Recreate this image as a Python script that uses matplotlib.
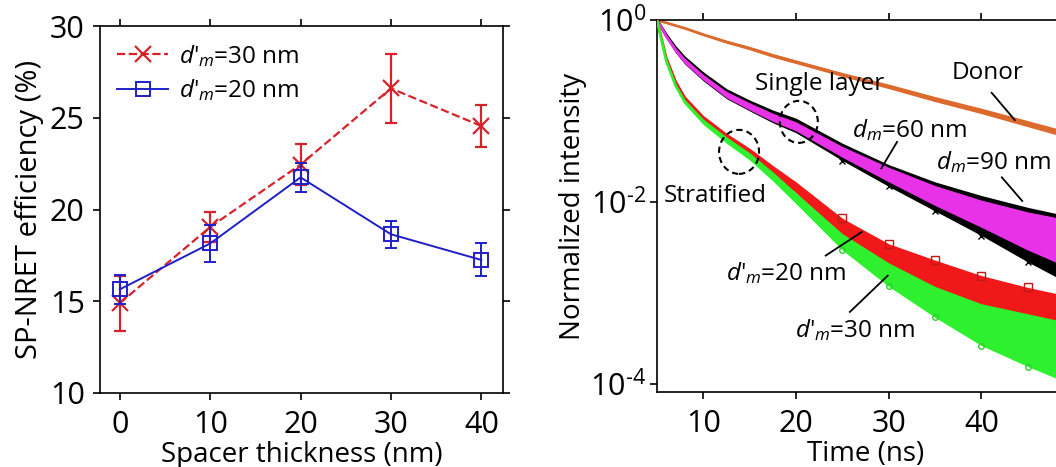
import numpy as np
import matplotlib
matplotlib.use("Agg")
import matplotlib.pyplot as plt
from matplotlib.patches import Ellipse
from matplotlib.lines import Line2D
from matplotlib.transforms import ScaledTranslation

plt.rcParams['font.family'] = ['Open Sans', 'DejaVu Sans']
plt.rcParams['mathtext.fontset'] = 'custom'
plt.rcParams['mathtext.rm'] = 'Open Sans'
plt.rcParams['mathtext.it'] = 'Open Sans:italic'
plt.rcParams['mathtext.fallback'] = 'cm'

# ---- Left panel: SP-NRET efficiency vs spacer thickness ----
spacer_nm = [0, 10, 20, 30, 40]
eff_30 = [14.9, 19.05, 22.45, 26.6, 24.55]
err_30 = [1.5, 0.8, 1.1, 1.9, 1.15]
eff_20 = [15.65, 18.15, 21.75, 18.65, 17.25]
err_20 = [0.8, 1.0, 0.8, 0.75, 0.9]

# ---- Right panel: decay curves (log10 of normalized intensity) ----
time_ns = [5, 6, 7, 8, 10, 12.5, 15, 17.5, 20, 25, 30, 35, 40, 45, 50]
donor_log = [0, -0.03, -0.06, -0.09, -0.16, -0.24, -0.31, -0.39, -0.46, -0.60, -0.73, -0.87, -1.00, -1.14, -1.28]
donor_spread = [0.008, 0.01, 0.012, 0.012, 0.014, 0.016, 0.018, 0.02, 0.02, 0.022, 0.025, 0.028, 0.03, 0.034, 0.036]
single60_log = [0, -0.18, -0.33, -0.45, -0.63, -0.82, -0.95, -1.07, -1.17, -1.45, -1.70, -1.93, -2.13, -2.32, -2.48]
single60_spread = [0.01, 0.02, 0.025, 0.03, 0.03, 0.035, 0.04, 0.045, 0.05, 0.06, 0.08, 0.11, 0.15, 0.21, 0.27]
single90_log = [0, -0.17, -0.32, -0.44, -0.62, -0.81, -0.94, -1.06, -1.16, -1.45, -1.71, -1.94, -2.15, -2.36, -2.55]
single90_spread = [0.015, 0.03, 0.04, 0.045, 0.05, 0.055, 0.06, 0.07, 0.08, 0.095, 0.12, 0.16, 0.22, 0.3, 0.38]
strat20_log = [0, -0.42, -0.68, -0.86, -1.08, -1.28, -1.45, -1.65, -1.84, -2.28, -2.60, -2.83, -3.05, -3.22, -3.35]
strat20_spread = [0.01, 0.015, 0.02, 0.025, 0.03, 0.035, 0.04, 0.05, 0.06, 0.1, 0.14, 0.19, 0.24, 0.28, 0.3]
strat30_log = [0, -0.45, -0.72, -0.90, -1.12, -1.32, -1.50, -1.72, -1.96, -2.44, -2.80, -3.10, -3.35, -3.52, -3.68]
strat30_spread = [0.01, 0.015, 0.02, 0.025, 0.03, 0.035, 0.04, 0.05, 0.06, 0.09, 0.13, 0.17, 0.23, 0.29, 0.34]

fig = plt.figure(figsize=(10.56, 4.67), dpi=100)

# Left axes
ax1 = fig.add_axes([100 / 1056, 1 - 393 / 467, 403 / 1056, 367 / 467])
red = '#d6232a'
blue = '#1f1fc8'
ax1.errorbar(spacer_nm, eff_30, yerr=err_30, color=red, ls='--', lw=1.6,
             marker='x', ms=12, mew=1.6, capsize=4, elinewidth=1.6, capthick=1.6,
             zorder=3)
ax1.errorbar(spacer_nm, eff_20, yerr=err_20, color=blue, ls='-', lw=1.4,
             marker='s', ms=10, mfc='none', mew=1.4, capsize=4, elinewidth=1.4,
             capthick=1.4, zorder=4)
ax1.set_xlim(-2.2, 42.4)
ax1.set_ylim(10, 30)
ax1.set_xticks(spacer_nm)
ax1.set_yticks([10, 15, 20, 25, 30])
ax1.tick_params(direction='out', length=5, width=1.2, labelsize=22,
                top=True, right=True)
ax1.tick_params(axis='x', pad=7)
ax1.tick_params(axis='y', pad=6)
ax1.set_xlabel('Spacer thickness (nm)', fontsize=20, labelpad=1)
ax1.set_ylabel('SP-NRET efficiency (%)', fontsize=21, labelpad=4)
for s in ax1.spines.values():
    s.set_linewidth(1.2)
handles = [Line2D([], [], color=red, ls='--', lw=1.6, marker='x', ms=12, mew=1.6),
           Line2D([], [], color=blue, ls='-', lw=1.4, marker='s', ms=10,
                  mfc='none', mew=1.4)]
ax1.legend(handles, ["$d$'$_m$=30 nm", "$d$'$_m$=20 nm"], loc='upper left',
           frameon=False, fontsize=17.5, handlelength=2.1, borderaxespad=0.3,
           labelspacing=0.35, handletextpad=0.45, borderpad=0.4)

# Right axes (extends past the right figure edge)
ax2 = fig.add_axes([657 / 1056, 1 - 392 / 467, (45 * 9.27) / 1056, 372 / 467])
ax2.set_yscale('log')


def band(ax, center, spread, color, zorder, lw):
    c = np.array(center)
    s = np.array(spread)
    ax.fill_between(time_ns, 10 ** (c - s), 10 ** (c + s), color=color,
                    lw=0, zorder=zorder)
    ax.plot(time_ns, 10 ** c, color=color, lw=lw, zorder=zorder)


band(ax2, donor_log, donor_spread, '#dc6a2c', 2, 1.8)
band(ax2, single90_log, single90_spread, 'black', 3, 2.0)
band(ax2, single60_log, single60_spread, '#e832e8', 4, 2.0)
band(ax2, strat20_log, strat20_spread, '#f01818', 5, 2.0)
band(ax2, strat30_log, strat30_spread, '#2ef02e', 6, 2.0)

# open markers scattered along the tails
tail = slice(9, None)
t_tail = time_ns[tail]
ax2.plot(t_tail, 10 ** (np.array(strat20_log[tail]) + np.array(strat20_spread[tail])),
         ls='none', marker='s', ms=6, mfc='none', mec='#c01818', mew=1, zorder=5)
ax2.plot(t_tail, 10 ** (np.array(strat30_log[tail]) - np.array(strat30_spread[tail])),
         ls='none', marker='o', ms=4, mfc='none', mec='#2ed02e', mew=1, zorder=6)
ax2.plot(t_tail, 10 ** (np.array(single90_log[tail]) - np.array(single90_spread[tail])),
         ls='none', marker='x', ms=5, mec='black', mew=1, zorder=3)

ax2.set_xlim(5, 50)
ax2.set_ylim(10 ** -4.09, 1)
ax2.set_xticks([10, 20, 30, 40])
ax2.set_yticks([1, 1e-2, 1e-4])
ax2.set_yticklabels([r'10$^{0}$', r'10$^{\text{-}2}$', r'10$^{\text{-}4}$'])
ax2.minorticks_off()
ax2.tick_params(direction='out', length=5, width=1.2, labelsize=22, top=True,
                right=False)
ax2.tick_params(axis='x', pad=7)
ax2.tick_params(axis='y', pad=3)
ax2.set_xlabel('Time (ns)', fontsize=20, labelpad=1)
ax2.set_ylabel('Normalized intensity', fontsize=20, labelpad=2)
for s in ax2.spines.values():
    s.set_linewidth(1.2)

# annotations
txt = dict(fontsize=17.5, ha='left', va='center', zorder=10)
ax2.text(15.6, 10 ** -0.70, 'Single layer', **txt)
ax2.text(36.8, 10 ** -0.58, 'Donor', **txt)
ax2.text(26.0, 10 ** -1.21, '$d_m$=60 nm', **txt)
ax2.text(35.1, 10 ** -1.56, '$d_m$=90 nm', **txt)
ax2.text(5.75, 10 ** -1.93, 'Stratified', **txt)
ax2.text(12.4, 10 ** -2.78, "$d$'$_m$=20 nm", **txt)
ax2.text(19.9, 10 ** -3.41, "$d$'$_m$=30 nm", **txt)

pointers = [((41.1, -0.80), (43.6, -1.10)),
            ((30.9, -1.34), (29.2, -1.63)),
            ((42.2, -1.73), (44.4, -1.99)),
            ((23.2, -2.59), (27.1, -2.33)),
            ((25.8, -3.21), (29.9, -2.81))]
for (x0, y0), (x1, y1) in pointers:
    ax2.plot([x0, x1], [10 ** y0, 10 ** y1], color='black', lw=1.3, zorder=11)

for (tc, lc, w, h) in [(20.3, -1.12, 0.38, 0.42), (13.85, -1.45, 0.40, 0.44)]:
    tr = fig.dpi_scale_trans + ScaledTranslation(tc, 10 ** lc, ax2.transData)
    ax2.add_patch(Ellipse((0, 0), w, h, transform=tr, fill=False, ls=(0, (3, 2)),
                          lw=1.5, ec='black', zorder=12, clip_on=False))

fig.savefig('out.png', dpi=100)
